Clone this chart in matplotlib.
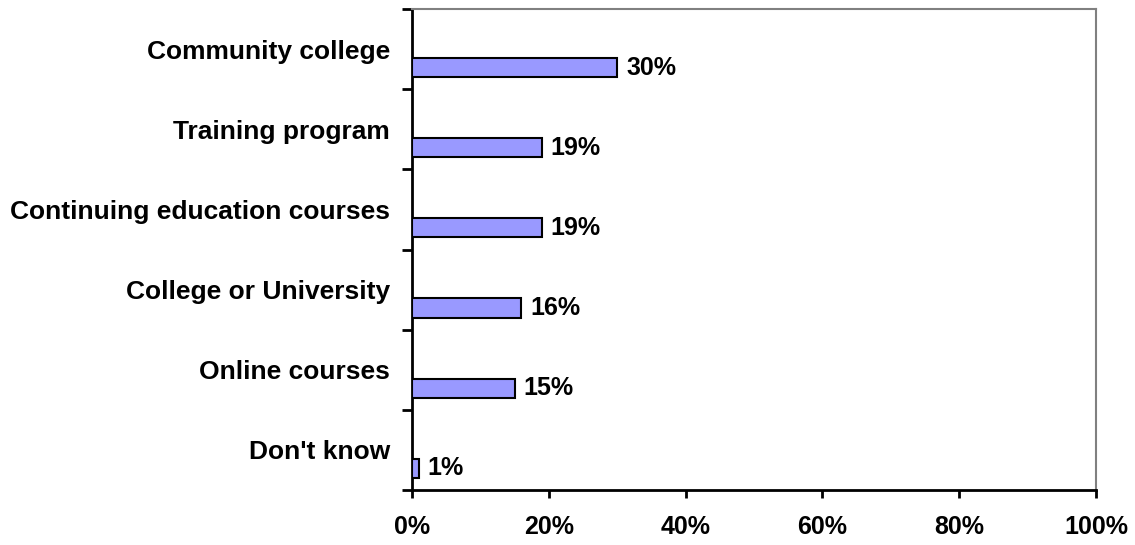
import matplotlib
matplotlib.use("Agg")
import matplotlib.pyplot as plt
from matplotlib.ticker import FixedLocator

categories = ["Community college", "Training program", "Continuing education courses",
              "College or University", "Online courses", "Don't know"]
values = [30, 19, 19, 16, 15, 1]
xtick_values = [0, 20, 40, 60, 80, 100]
xtick_labels = ["0%", "20%", "40%", "60%", "80%", "100%"]

plt.rcParams['font.family'] = ['Liberation Sans', 'DejaVu Sans']
plt.rcParams['font.weight'] = 'bold'

fig = plt.figure(figsize=(11.35, 5.45), dpi=100)
ax = fig.add_axes([412/1135, 1-490/545, (1096-412)/1135, (490-9)/545])

n = len(categories)
ypos = [n - 1 - i for i in range(n)]
offset = 0.23
barh = 0.24
ax.barh([y - offset for y in ypos], values, height=barh, color="#9999FF",
        edgecolor="black", linewidth=1.5, zorder=3)

for y, v in zip(ypos, values):
    ax.text(v + 1.3, y - offset, f"{v}%", va="center", ha="left",
            fontsize=18, fontweight="bold", color="black")

ax.set_xlim(0, 100)
ax.set_ylim(-0.5, n - 0.5)

ax.set_xticks(xtick_values)
ax.set_xticklabels(xtick_labels, fontsize=18, fontweight="bold")
ax.tick_params(axis="x", direction="out", length=6, width=2, pad=12)

ax.set_yticks(ypos)
ax.set_yticklabels(categories, fontsize=19, fontweight="bold")
ax.tick_params(axis="y", which="major", length=0, pad=16)
ax.yaxis.set_minor_locator(FixedLocator([k - 0.5 for k in range(n + 1)]))
ax.tick_params(axis="y", which="minor", direction="out", length=7, width=2)

for s in ["left", "bottom"]:
    ax.spines[s].set_color("black")
    ax.spines[s].set_linewidth(2)
for s in ["top", "right"]:
    ax.spines[s].set_color("#808080")
    ax.spines[s].set_linewidth(1.5)

fig.savefig("out.png", dpi=100)
